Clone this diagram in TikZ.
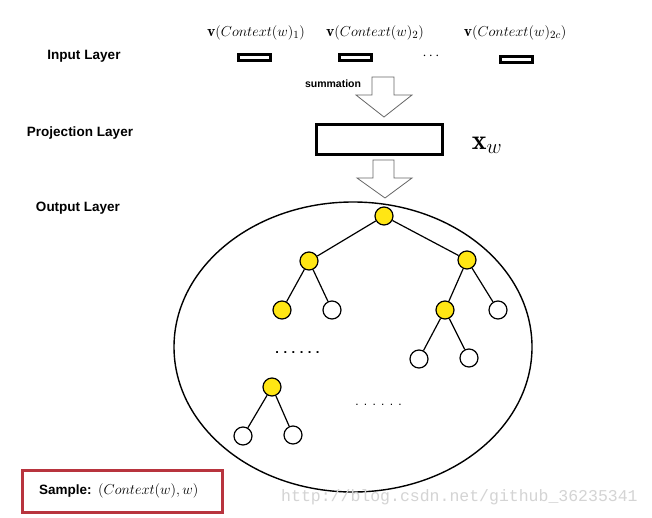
\documentclass[tikz,border=0pt]{standalone}
\usepackage{fontspec}
\setsansfont{Liberation Sans}
\newfontfamily\wmfont{Liberation Mono}
\newcommand{\dotsrow}[1]{.\hspace{#1}.\hspace{#1}.\hspace{#1}.\hspace{#1}.\hspace{#1}.}
\begin{document}
\begin{tikzpicture}[x=1pt,y=-1pt,
  lbl/.style={font=\sffamily\bfseries\fontsize{13.5}{15}\selectfont, inner sep=0pt},
  mth/.style={font=\fontsize{15.8}{18}\selectfont, inner sep=0pt},
  inbox/.style={draw, line width=3pt, minimum width=32pt, minimum height=6pt, inner sep=0pt},
  yel/.style={circle, draw, line width=1.2pt, fill=treeyel, minimum size=18pt, inner sep=0pt},
  wht/.style={circle, draw, line width=1.2pt, fill=white, minimum size=18pt, inner sep=0pt},
  edge/.style={line width=1.2pt},
  blockarrow/.style={draw=black!60, line width=0.8pt, fill=white, line join=miter},
  dotrow/.style={font=\bfseries\fontsize{15}{15}\selectfont, inner sep=0pt}
]
\definecolor{treeyel}{RGB}{255,230,20}
\definecolor{samplered}{RGB}{184,52,62}
\useasboundingbox[fill=white] (0,0) rectangle (652,518);

% left labels
\node[lbl] (inlab) at (84,56) {Input\hspace{4pt}Layer};
\node[lbl] (projlab) at (80,133) {Projection\hspace{4pt}Layer};
\node[lbl] (outlab) at (78,208) {Output Layer};

% top math labels
\node[mth] (c1) at (256,33) {$\mathbf{v}(Context(w)_1)$};
\node[mth] (c2) at (375,33) {$\mathbf{v}(Context(w)_2)$};
\node[mth] (c3) at (515,33) {$\mathbf{v}(Context(w)_{2c})$};

% input boxes
\node[inbox] (b1) at (254.5,58) {};
\node[inbox] (b2) at (355.5,58) {};
\node[inbox] (b3) at (516.5,60) {};
\node[dotrow] (idots) at (431,56) {$\cdots$};

% summation arrow
\draw[blockarrow] (372,77) -- (394,77) -- (394,95) -- (412,95) -- (384,117) -- (356,95) -- (372,95) -- cycle;
\node[font=\sffamily\bfseries\fontsize{10.5}{12}\selectfont, inner sep=0pt] (sumlab) at (333,84) {summation};

% projection layer
\node[draw, line width=3pt, minimum width=126pt, minimum height=30pt, inner sep=0pt] (proj) at (379,140) {};
\node[font=\fontsize{28}{30}\selectfont, inner sep=0pt] (xw) at (487,145) {$\mathbf{x}_w$};

% second arrow
\draw[blockarrow] (373,160) -- (394,160) -- (394,178) -- (412,178) -- (385,198) -- (357,178) -- (373,178) -- cycle;

% ellipse
\draw[line width=1.4pt] (353,347) ellipse [x radius=179, y radius=145];

% tree
\node[yel] (r) at (384,216) {};
\node[yel] (l1) at (309,261) {};
\node[yel] (r1) at (467,260) {};
\node[yel] (ll) at (282,310) {};
\node[wht] (lr) at (332,310) {};
\node[yel] (rl) at (445,310) {};
\node[wht] (rr) at (498,310) {};
\node[wht] (rll) at (419,359) {};
\node[wht] (rlr) at (469,358) {};
\node[yel] (y2) at (272,387) {};
\node[wht] (y2l) at (243,436) {};
\node[wht] (y2r) at (293,435) {};
\draw[edge] (r) -- (l1);
\draw[edge] (r) -- (r1);
\draw[edge] (l1) -- (ll);
\draw[edge] (l1) -- (lr);
\draw[edge] (r1) -- (rl);
\draw[edge] (r1) -- (rr);
\draw[edge] (rl) -- (rll);
\draw[edge] (rl) -- (rlr);
\draw[edge] (y2) -- (y2l);
\draw[edge] (y2) -- (y2r);
\node[font=\sffamily\bfseries\fontsize{13}{13}\selectfont, inner sep=0pt] (d1) at (297.5,353) {\dotsrow{4.5pt}};
\node[font=\sffamily\fontsize{12}{12}\selectfont, inner sep=0pt] (d2) at (378.5,405) {\dotsrow{5.3pt}};

% sample box
\node[draw=samplered, line width=3pt, minimum width=200pt, minimum height=42pt, inner sep=0pt] (sbox) at (122.5,491.5) {};
\node[lbl, anchor=west] (slab) at (39,491) {Sample:};
\node[mth, font=\fontsize{15.3}{18}\selectfont, anchor=west] (sform) at (98,491) {$(Context(w),w)$};

% watermark
\node[font=\wmfont\fontsize{16.5}{18}\selectfont, text=black!17, inner sep=0pt, anchor=west] (wm) at (281,497) {http://blog.csdn.net/github\_36235341};
\end{tikzpicture}
\end{document}
